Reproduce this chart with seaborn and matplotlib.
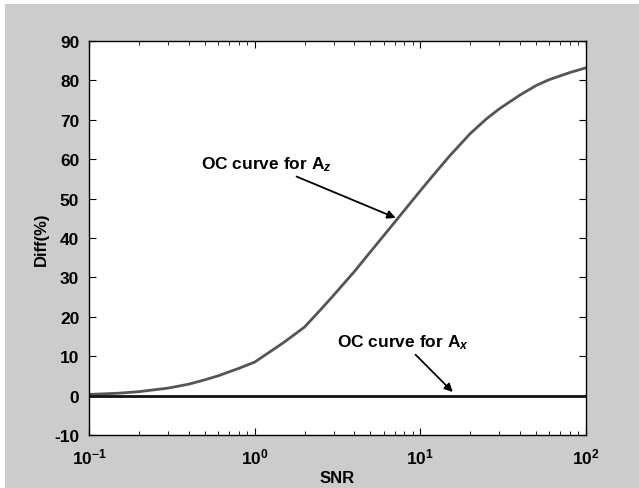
import numpy as np
import pandas as pd
import seaborn as sns
import matplotlib.pyplot as plt
from matplotlib.patches import Rectangle
from matplotlib.ticker import LogLocator

# SNR values and the Diff(%)
snr = [0.1, 0.15, 0.2, 0.3, 0.4, 0.5, 0.6, 0.8, 1, 1.5, 2, 2.5, 3, 4, 5, 7,
       10, 12, 15, 20, 25, 30, 40, 50, 60, 80, 100]
diff_az = [0.3, 0.6, 1.0, 1.9, 2.9, 4.0, 5.0, 6.9, 8.5, 13.5, 17.4, 21.8,
           25.5, 31.5, 36.5, 44.0, 52.0, 56.0, 60.8, 66.5, 70.2, 72.8,
           76.3, 78.7, 80.2, 82.0, 83.2]
diff_ax = [0.0] * len(snr)

df = pd.DataFrame({"SNR": snr * 2,
                   "Diff": diff_az + diff_ax,
                   "curve": ["Az"] * len(snr) + ["Ax"] * len(snr)})

sns.set_style("ticks")
plt.rcParams["font.family"] = ["Liberation Sans", "DejaVu Sans"]
plt.rcParams["font.weight"] = "bold"
plt.rcParams["text.color"] = "black"
plt.rcParams["axes.labelcolor"] = "black"
plt.rcParams["xtick.color"] = "black"
plt.rcParams["ytick.color"] = "black"
plt.rcParams["axes.unicode_minus"] = False
plt.rcParams["mathtext.fontset"] = "custom"
plt.rcParams["mathtext.rm"] = "Liberation Sans:bold"
plt.rcParams["mathtext.it"] = "Liberation Sans:italic:bold"
plt.rcParams["mathtext.bf"] = "Liberation Sans:bold"

fig = plt.figure(figsize=(6.39, 4.89), dpi=100, facecolor="#cccccc")
# thin white strip on top and left, like the scanned page
fig.patches.append(Rectangle((0, 1 - 5 / 489), 1, 5 / 489, transform=fig.transFigure,
                             facecolor="white", edgecolor="none"))
fig.patches.append(Rectangle((0, 0), 5 / 639, 1, transform=fig.transFigure,
                             facecolor="white", edgecolor="none"))
ax = fig.add_axes([89 / 639, 1 - 436 / 489, 497 / 639, 394 / 489])
ax.set_facecolor("white")

sns.lineplot(data=df, x="SNR", y="Diff", hue="curve",
             palette={"Az": "#555555", "Ax": "#111111"},
             linewidth=2.0, legend=False, ax=ax)

ax.set_xscale("log")
ax.set_xlim(0.1, 100)
ax.set_ylim(-10, 90)
ax.set_yticks(range(-10, 91, 10))
ax.xaxis.set_minor_locator(LogLocator(base=10, subs=np.arange(2, 10)))

for s in ax.spines.values():
    s.set_visible(True)
    s.set_color("black")
    s.set_linewidth(1.0)
ax.tick_params(which="both", direction="in", top=True, right=True,
               labelsize=12.5, color="black", labelcolor="black")
ax.tick_params(axis="y", pad=7)
ax.tick_params(axis="x", pad=8)
ax.tick_params(which="major", length=5)
ax.tick_params(which="minor", length=3)
for lbl in ax.get_yticklabels():
    lbl.set_fontweight("bold")

ax.set_xlabel("SNR", fontsize=12, fontweight="bold", labelpad=3)
ax.set_ylabel("Diff(%)", fontsize=12, fontweight="bold", labelpad=4)

ax.annotate("OC curve for A$_{z}$", xy=(7.1, 45.1), xytext=(0.474, 58.8),
            fontsize=12.5, fontweight="bold", va="center", ha="left", color="black",
            arrowprops=dict(arrowstyle="-|>", color="black", lw=1.3,
                            shrinkA=0, shrinkB=0, mutation_scale=12),
            )
ax.annotate("OC curve for A$_{x}$", xy=(15.7, 0.9), xytext=(3.14, 13.6),
            fontsize=12.5, fontweight="bold", va="center", ha="left", color="black",
            arrowprops=dict(arrowstyle="-|>", color="black", lw=1.3,
                            shrinkA=0, shrinkB=0, mutation_scale=12),
            )

fig.savefig("out.png", dpi=100, facecolor=fig.get_facecolor())
